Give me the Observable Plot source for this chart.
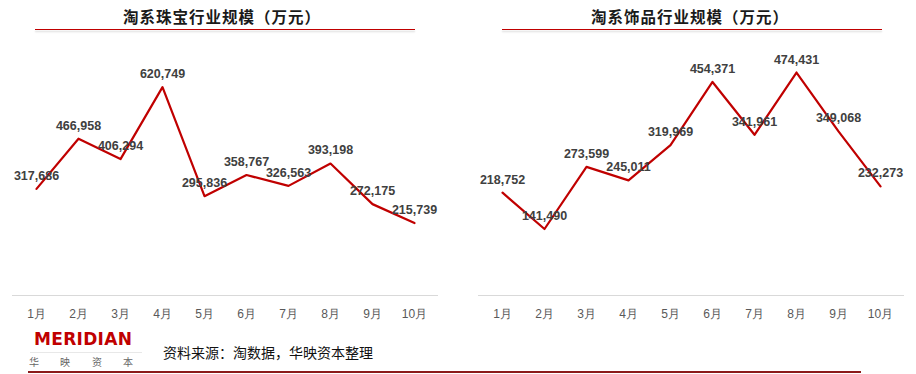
<!DOCTYPE html>
<html><head><meta charset="utf-8">
<script src="https://cdn.jsdelivr.net/npm/d3@7"></script>
<script src="https://cdn.jsdelivr.net/npm/@observablehq/plot@0.6"></script>
<style>
html,body{margin:0;padding:0;background:#fff;}
#root{position:relative;width:916px;height:374px;overflow:hidden;font-family:"Liberation Sans",Arial,sans-serif;}
.title{position:absolute;top:5px;font-family:"Noto Sans CJK SC",sans-serif;font-weight:bold;font-size:15.5px;letter-spacing:1px;color:#1a1a1a;text-align:center;line-height:22px;white-space:nowrap;}
.uline{position:absolute;top:29px;height:1px;background:#c00000;box-shadow:0 2px 2px rgba(0,0,0,0.18);}
.chart{position:absolute;top:40px;}
.source{position:absolute;left:163px;top:342px;font-family:"Noto Sans CJK SC",sans-serif;font-size:14px;color:#111;line-height:20px;white-space:nowrap;}
.logo{position:absolute;left:34px;top:330px;font-family:"DejaVu Sans",sans-serif;font-weight:900;font-size:17px;color:#c00000;letter-spacing:0.3px;line-height:18px;}
.logocn{position:absolute;top:355px;font-family:"Noto Sans CJK SC",sans-serif;font-size:10px;color:#666;line-height:14px;}
.logoline{position:absolute;left:30px;top:352px;width:112px;border-top:1px solid #e8e8e8;}
.bline{position:absolute;left:28px;top:371px;width:833px;border-top:2px solid #8b1a1a;}
</style></head>
<body><div id="root"></div>
<script>
const months = ["1月","2月","3月","4月","5月","6月","7月","8月","9月","10月"];
const jewelryValues = [317686, 466958, 406294, 620749, 295836, 358767, 326563, 393198, 272175, 215739];
const accessoryValues = [218752, 141490, 273599, 245011, 319969, 454371, 341961, 474431, 349068, 232273];
const titles = ["淘系珠宝行业规模（万元）", "淘系饰品行业规模（万元）"];
const yMax = [700000, 500000];
const sourceText = "资料来源：淘数据，华映资本整理";
const logoText = "MERIDIAN";
const logoCn = ["华","映","资","本"];

const root = document.getElementById("root");
const fmt = d3.format(",");

function makeChart(values, ymax) {
  const data = months.map((m, i) => ({month: m, value: values[i]}));
  return Plot.plot({
    width: 450, height: 290,
    marginLeft: 12, marginRight: 12, marginTop: 20, marginBottom: 35,
    style: {background: "transparent", fontFamily: "'Liberation Sans', Arial, sans-serif"},
    x: {type: "point", domain: months, padding: 0.5},
    y: {domain: [0, ymax], axis: null},
    marks: [
      Plot.ruleY([0], {stroke: "#d9d9d9", strokeWidth: 1}),
      Plot.axisX({tickSize: 0, tickPadding: 14, fontSize: 12, fill: "#595959", label: null}),
      Plot.line(data, {x: "month", y: "value", stroke: "#c00000", strokeWidth: 2.2}),
      Plot.text(data, {x: "month", y: "value", text: d => fmt(d.value), dy: -13, fontSize: 12.5, fontWeight: "bold", fill: "#404040"})
    ]
  });
}

const lefts = [0, 466];
const titleCenters = [222, 690];
const ulines = [[35, 415], [502, 882]];
[jewelryValues, accessoryValues].forEach((vals, k) => {
  const c = makeChart(vals, yMax[k]);
  c.classList.add("chart");
  c.style.left = lefts[k] + "px";
  root.appendChild(c);
  const t = document.createElement("div");
  t.className = "title";
  t.textContent = titles[k];
  t.style.left = (titleCenters[k] - 150) + "px";
  t.style.width = "300px";
  root.appendChild(t);
  const u = document.createElement("div");
  u.className = "uline";
  u.style.left = ulines[k][0] + "px";
  u.style.width = (ulines[k][1] - ulines[k][0]) + "px";
  root.appendChild(u);
});

const logo = document.createElement("div");
logo.className = "logo"; logo.textContent = logoText; root.appendChild(logo);
const ll = document.createElement("div"); ll.className = "logoline"; root.appendChild(ll);
const cnX = [34, 65, 97, 128];
logoCn.forEach((ch, i) => {
  const d = document.createElement("div");
  d.className = "logocn"; d.textContent = ch; d.style.left = (cnX[i] - 5) + "px";
  root.appendChild(d);
});
const src = document.createElement("div");
src.className = "source"; src.textContent = sourceText; root.appendChild(src);
const bl = document.createElement("div"); bl.className = "bline"; root.appendChild(bl);
</script>
</body></html>
